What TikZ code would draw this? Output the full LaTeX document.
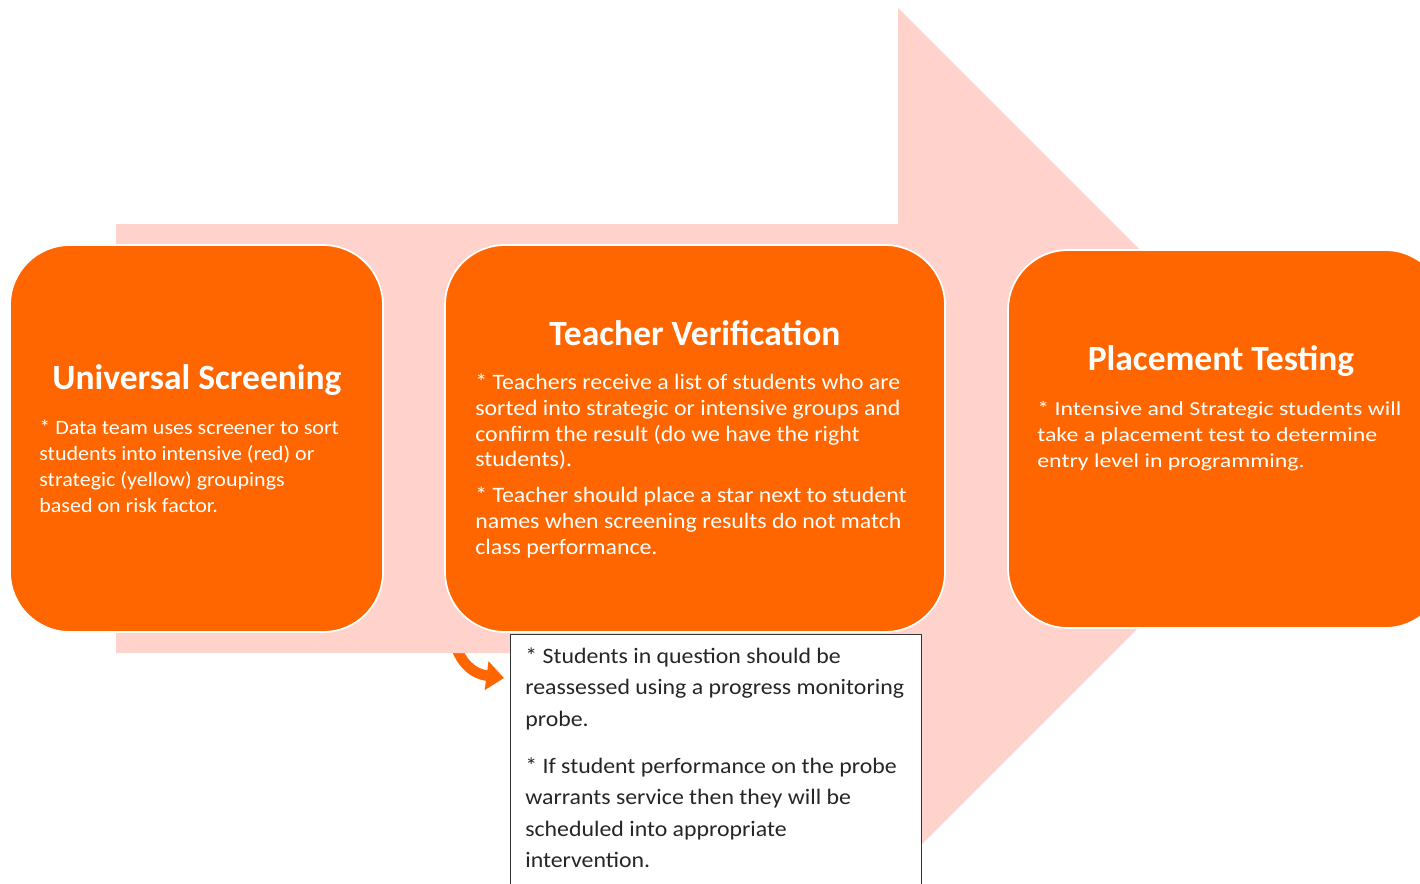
\documentclass[tikz,border=0pt]{standalone}
\usepackage{fontspec}
\setmainfont{Carlito}
\newfontfamily\breitfont[FakeStretch=1.08]{Carlito}
\newfontfamily\weitfont[FakeStretch=1.2]{Carlito}
\usetikzlibrary{arrows.meta}
\definecolor{orangebox}{HTML}{FF6600}
\definecolor{rosa}{HTML}{FFD3CC}
\begin{document}
\begin{tikzpicture}[x=0.02cm, y=-0.02cm]
  \useasboundingbox (0,0) rectangle (1420,883);

  % Stile.
  \tikzstyle{kasten}=[draw=white, line width=1pt, fill=orangebox, rounded corners=34pt, inner sep=0pt]
  \tikzstyle{titel}=[text=white, font=\bfseries\fontsize{20.2}{24}\selectfont, inner sep=0pt]
  \tikzstyle{inhalt}=[text=white, align=left, inner sep=0pt, anchor=north west]
  \tikzstyle{hinweis}=[draw=black!80, line width=0.8pt, fill=white, inner sep=0pt, anchor=north west]
  \tikzstyle{notiz}=[text=black!85, align=left, font=\breitfont\fontsize{12.55}{17.9}\selectfont, inner sep=0pt, anchor=north west]
  \tikzstyle{pfeilchen}=[draw=orangebox, line width=6pt, -{Triangle[width=16pt, length=10pt]}]

  % Kleiner Pfeil.
  \coordinate (pfeilstart) at (454,640);
  \coordinate (pfeilspitze) at (504,678);
  \draw[pfeilchen] (pfeilstart) .. controls (460,664) and (474,674) .. (pfeilspitze);

  % Grosser Pfeil.
  \fill[rosa] (116,224) -- (898,224) -- (898,8) -- (1328,438) -- (898,868)
    -- (898,653) -- (116,653) -- cycle;

  % Kaesten.
  \node[kasten, minimum width=7.46cm, minimum height=7.74cm] (screening) at (196.5,438.5) {};
  \node[kasten, minimum width=10cm, minimum height=7.74cm] (verifikation) at (695,438.5) {};
  \node[kasten, minimum width=8.74cm, minimum height=7.56cm] (placement) at (1226.5,439) {};

  % Titel.
  \node[titel] (screening-titel) at (197,380) {Universal Screening};
  \node[titel] (verifikation-titel) at (695,333) {Teacher Verification};
  \node[titel] (placement-titel) at (1221,361) {Placement Testing};

  % Texte.
  \node[inhalt, font=\breitfont\fontsize{11.6}{14.7}\selectfont] (screening-text) at (39,420) {* Data team uses screener to sort\\
    students into intensive (red) or\\
    strategic (yellow) groupings\\
    based on risk factor.};
  \node[inhalt, font=\breitfont\fontsize{12.55}{14.7}\selectfont] (verifikation-text) at (475,373.5) {* Teachers receive a list of students who are\\
    sorted into strategic or intensive groups and\\
    confirm the result (do we have the right\\
    students).\\[5.7pt]
    * Teacher should place a star next to student\\
    names when screening results do not match\\
    class performance.};
  \node[inhalt, font=\weitfont\fontsize{11.3}{14.7}\selectfont] (placement-text) at (1037,401) {* Intensive and Strategic students will\\
    take a placement test to determine\\
    entry level in programming.};

  % Hinweis.
  \node[hinweis, minimum width=8.22cm, minimum height=6cm] (hinweis) at (510,634) {};
  \node[notiz] (hinweis-text) at (525,647.5) {* Students in question should be\\
    reassessed using a progress monitoring\\
    probe.\\[8.8pt]
    * If student performance on the probe\\
    warrants service then they will be\\
    scheduled into appropriate\\
    intervention.};
\end{tikzpicture}
\end{document}
